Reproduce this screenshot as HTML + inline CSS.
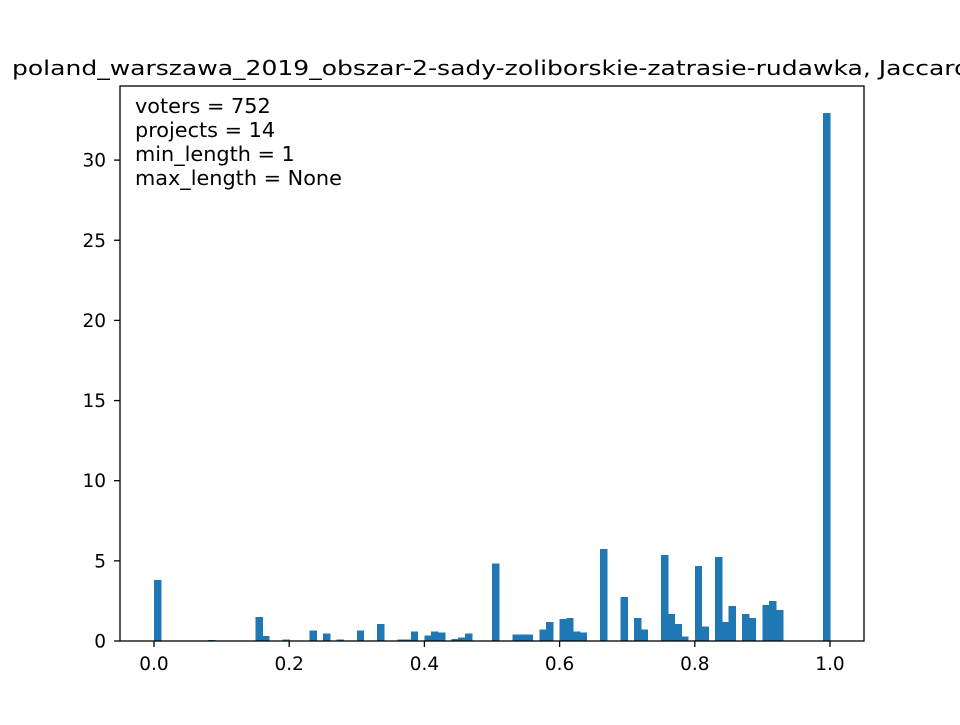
<!DOCTYPE html>
<html><head><meta charset="utf-8"><style>
html,body{margin:0;padding:0;background:#fff;overflow:hidden}
text{font-family:"DejaVu Sans","Liberation Sans",sans-serif}
</style></head><body>
<svg id="chart" width="960" height="720" xmlns="http://www.w3.org/2000/svg">
<text x="12" y="75" font-size="20.8" textLength="958" lengthAdjust="spacingAndGlyphs">poland_warszawa_2019_obszar-2-sady-zoliborskie-zatrasie-rudawka, Jaccard</text>
<g id="bars" shape-rendering="crispEdges"></g>
<rect x="120" y="86" width="744" height="555" fill="none" stroke="#000" stroke-width="1.3"/>
<g id="xt"></g>
<g id="yt"></g>
<g font-size="20.8">
<text x="135" y="113">voters = 752</text>
<text x="135" y="137">projects = 14</text>
<text x="135" y="161">min_length = 1</text>
<text x="135" y="185">max_length = None</text>
</g>
</svg>
<script>
const binIndex=[0,8,15,16,18,19,23,25,27,28,30,33,36,37,38,40,41,42,44,45,46,50,53,54,55,57,58,60,61,62,63,66,69,71,72,75,76,77,78,80,81,83,84,85,87,88,90,91,92,99];
const density=[3.8,0.07,1.5,0.3,0.03,0.08,0.66,0.47,0.08,0.04,0.66,1.05,0.08,0.08,0.6,0.34,0.6,0.53,0.14,0.21,0.47,4.85,0.4,0.4,0.4,0.73,1.17,1.36,1.42,0.6,0.53,5.75,2.74,1.42,0.73,5.37,1.68,1.05,0.28,4.68,0.92,5.23,1.17,2.18,1.68,1.42,2.24,2.5,1.93,32.95];
const xTicks=[0,0.2,0.4,0.6,0.8,1.0];
const xTickLabels=["0.0","0.2","0.4","0.6","0.8","1.0"];
const yTicks=[0,5,10,15,20,25,30];
const NS="http://www.w3.org/2000/svg";
const xs=v=>154+v*676;
const ys=v=>641-v*16.03;
const bars=document.getElementById('bars');
binIndex.forEach((b,i)=>{
  const r=document.createElementNS(NS,'rect');
  const x0=xs(b/100),x1=xs((b+1)/100);
  r.setAttribute('x',x0);r.setAttribute('width',x1-x0+0.6);
  r.setAttribute('y',ys(density[i]));r.setAttribute('height',ys(0)-ys(density[i]));
  r.setAttribute('fill','#1f77b4');
  
  
  bars.appendChild(r);
});
const xt=document.getElementById('xt');
xTicks.forEach((v,i)=>{
  const l=document.createElementNS(NS,'line');
  l.setAttribute('x1',xs(v));l.setAttribute('x2',xs(v));l.setAttribute('y1',641);l.setAttribute('y2',647);l.setAttribute('stroke','#000');l.setAttribute('stroke-width','1.3');
  
  
  xt.appendChild(l);
  const t=document.createElementNS(NS,'text');
  t.setAttribute('x',xs(v));t.setAttribute('y',670);t.setAttribute('text-anchor','middle');t.setAttribute('font-size','18.5');
  t.textContent=xTickLabels[i];
  
  
  xt.appendChild(t);
});
const yt=document.getElementById('yt');
yTicks.forEach(v=>{
  const l=document.createElementNS(NS,'line');
  l.setAttribute('x1',114);l.setAttribute('x2',120);l.setAttribute('y1',ys(v));l.setAttribute('y2',ys(v));l.setAttribute('stroke','#000');l.setAttribute('stroke-width','1.3');
  
  
  yt.appendChild(l);
  const t=document.createElementNS(NS,'text');
  t.setAttribute('x',106);t.setAttribute('y',ys(v)+6.5);t.setAttribute('text-anchor','end');t.setAttribute('font-size','18.5');
  t.textContent=String(v);
  
  
  yt.appendChild(t);
});
</script>
</body></html>
